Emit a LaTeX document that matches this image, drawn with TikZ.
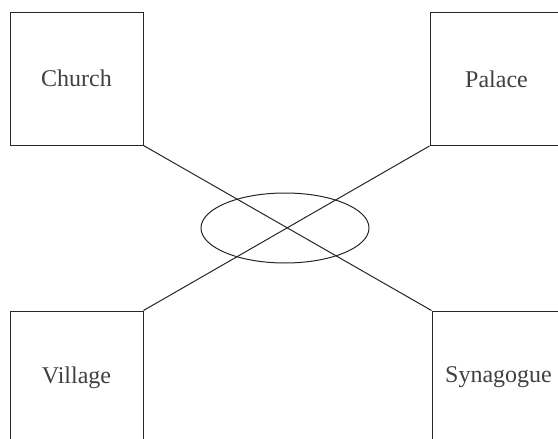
\documentclass[tikz,border=0pt]{standalone}
\usepackage{fontspec}
\setmainfont{Liberation Serif}
\usetikzlibrary{positioning,shapes.geometric}

\begin{document}
\begin{tikzpicture}[x=0.5pt, y=-0.5pt, line width=0.5pt,
  every node/.style={draw=black!85, text=black!75, font=\fontsize{12}{14}\selectfont},
  place/.style={rectangle, minimum size=66.5pt, inner sep=0pt}]
\clip (0,0) rectangle (558,439);
% the four places
\node[place] (church) at (76.5,78.5) {Church};
\node[place] (palace) at (496.5,79) {Palace};
\node[place] (village) at (76.5,377.5) {Village};
\node[place] (synagogue) at (498.5,377.5) {Synagogue};

% centre
\node[ellipse, minimum width=84pt, minimum height=35pt, inner sep=0pt] (ring) at (285,228) {};

\draw[black!85] (church.south east) -- (synagogue.north west);
\draw[black!85] (palace.south west) -- (village.north east);
\end{tikzpicture}
\end{document}
